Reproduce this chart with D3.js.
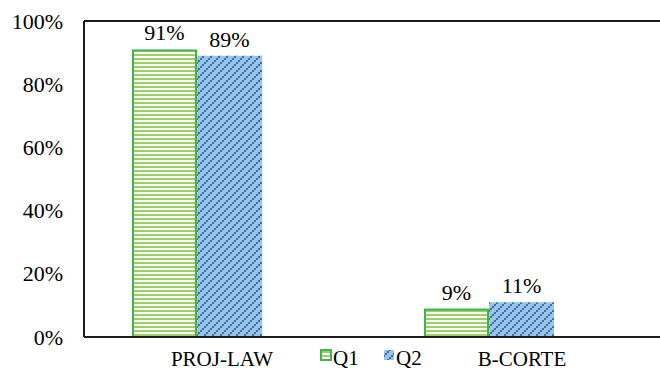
<!DOCTYPE html>
<html>
<head>
<meta charset="utf-8">
<script src="https://cdn.jsdelivr.net/npm/d3@7"></script>
</head>
<body style="margin:0">
<svg id="chart" width="660" height="375" style="display:block" font-family="Tinos, 'Liberation Serif', 'Times New Roman', serif"></svg>
<script>
// Share of responses per category, two questions
const categories = ["PROJ-LAW", "B-CORTE"];
const seriesNames = ["Q1", "Q2"];
const q1Values = [0.91, 0.09];
const q2Values = [0.89, 0.11];
const yTicks = [0, 0.2, 0.4, 0.6, 0.8, 1.0];

const FONT = "Tinos, 'Liberation Serif', 'Times New Roman', serif";
const svg = d3.select("#chart");
const W = 660;
const frame = { left: 84, top: 21, bottom: 337 };

const defs = svg.append("defs");
// Q1: white with horizontal green stripes
const p1 = defs.append("pattern").attr("id", "pat-q1")
  .attr("patternUnits", "userSpaceOnUse").attr("width", 8).attr("height", 4);
p1.append("rect").attr("width", 8).attr("height", 4).attr("fill", "#ffffff");
p1.append("rect").attr("y", 2).attr("width", 8).attr("height", 2).attr("fill", "#9ccf66");
// Q2: light blue with dotted diagonal dark-blue lines
const p2 = defs.append("pattern").attr("id", "pat-q2")
  .attr("patternUnits", "userSpaceOnUse").attr("width", 8).attr("height", 8);
p2.append("rect").attr("width", 8).attr("height", 8).attr("fill", "#9dc3e6");
[[0,6],[2,4],[4,2],[6,0]].forEach(([x, y]) => {
  p2.append("rect").attr("x", x).attr("y", y).attr("width", 2).attr("height", 2).attr("fill", "#2e75b6");
});

const y = d3.scaleLinear().domain([0, 1]).range([frame.bottom, frame.top]);
const x = d3.scaleBand().domain(categories).range([51, 635]).paddingInner(0).paddingOuter(0);
const xs = d3.scaleBand().domain(seriesNames).range([0, 130]);
const groupOffset = (x.bandwidth() - 130) / 2;

const table = categories.map((c, i) => ({ cat: c, values: [
  { key: "Q1", v: q1Values[i] }, { key: "Q2", v: q2Values[i] }
]}));

// Frame: top and left lines
svg.append("line").attr("x1", frame.left).attr("x2", W).attr("y1", frame.top).attr("y2", frame.top)
  .attr("stroke", "#1a1a1a").attr("stroke-width", 2);
svg.append("line").attr("x1", frame.left).attr("x2", frame.left).attr("y1", frame.top).attr("y2", frame.bottom)
  .attr("stroke", "#1a1a1a").attr("stroke-width", 2);

// Y axis labels
const fmt = d3.format(".0%");
const yAxis = d3.axisLeft(y).tickValues(yTicks).tickFormat(fmt).tickSize(0).tickPadding(21);
const ya = svg.append("g").attr("transform", `translate(${frame.left},0)`).call(yAxis);
ya.select(".domain").remove();
ya.attr("font-family", FONT).attr("font-size", 22);
ya.selectAll("text").attr("fill", "#000");

// Bars
const groups = svg.append("g").selectAll("g").data(table).join("g")
  .attr("transform", d => `translate(${x(d.cat) + groupOffset},0)`);
groups.selectAll("rect").data(d => d.values).join("rect")
  .attr("x", d => xs(d.key) + (d.key === "Q1" ? 1 : 0))
  .attr("y", d => y(d.v) + (d.key === "Q1" ? 1 : 0))
  .attr("width", d => xs.bandwidth() - (d.key === "Q1" ? 2 : 0))
  .attr("height", d => frame.bottom - y(d.v) - (d.key === "Q1" ? 1 : 0))
  .attr("fill", d => d.key === "Q1" ? "url(#pat-q1)" : "url(#pat-q2)")
  .attr("stroke", d => d.key === "Q1" ? "#3fb54d" : "none")
  .attr("stroke-width", 2);

// Value labels
groups.selectAll("text.val").data(d => d.values).join("text").attr("class", "val")
  .attr("x", d => xs(d.key) + xs.bandwidth() / 2)
  .attr("y", d => y(d.v) - 9)
  .attr("text-anchor", "middle")
  .attr("font-family", FONT).attr("font-size", 22).attr("fill", "#000")
  .text(d => fmt(d.v));

// Bottom axis line
svg.append("line").attr("x1", frame.left).attr("x2", W).attr("y1", frame.bottom).attr("y2", frame.bottom)
  .attr("stroke", "#1a1a1a").attr("stroke-width", 2);

// Category labels
svg.append("g").selectAll("text").data(categories).join("text")
  .attr("x", d => x(d) + x.bandwidth() / 2 + (d === "PROJ-LAW" ? 25 : 33))
  .attr("y", 366)
  .attr("text-anchor", "middle")
  .attr("font-family", FONT).attr("font-size", 21).attr("fill", "#000")
  .text(d => d);

// Legend
const legend = svg.append("g").attr("transform", "translate(320,349)");
const li = legend.selectAll("g").data(seriesNames).join("g")
  .attr("transform", (d, i) => `translate(${i * 63},0)`);
li.append("rect").attr("x", 1).attr("y", 1).attr("width", 10).attr("height", 10)
  .attr("fill", d => d === "Q1" ? "url(#pat-q1)" : "url(#pat-q2)")
  .attr("stroke", d => d === "Q1" ? "#3fb54d" : "none").attr("stroke-width", 2);
li.append("text").attr("x", 13).attr("y", 16)
  .attr("font-family", FONT).attr("font-size", 21).attr("fill", "#000")
  .text(d => d);
</script>
</body>
</html>
